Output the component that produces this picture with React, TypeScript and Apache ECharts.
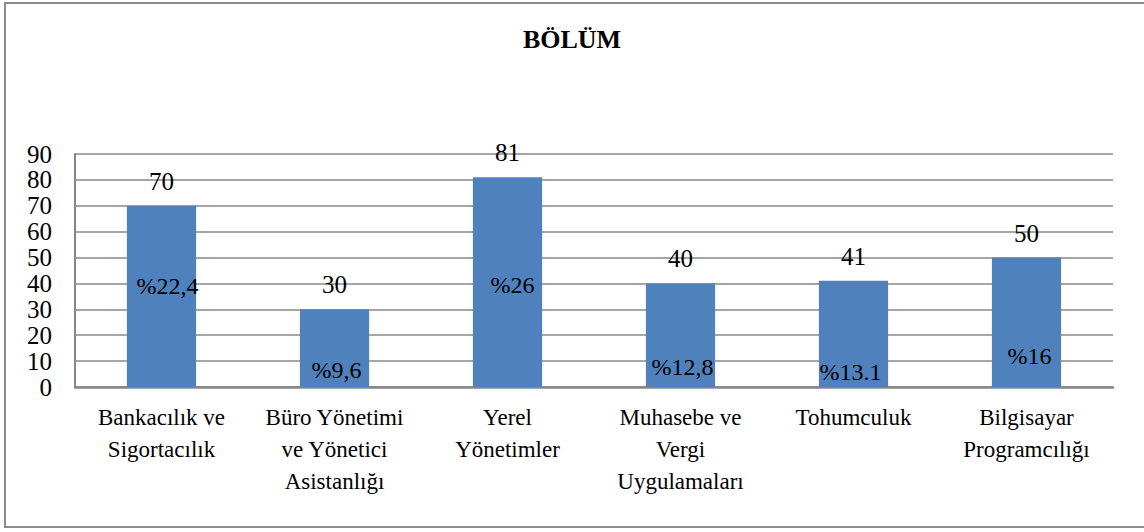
import React, { useEffect, useRef } from "react";
import * as echarts from "echarts";

const title = "BÖLÜM";
const categories = [
  "Bankacılık ve\nSigortacılık",
  "Büro Yönetimi\nve Yönetici\nAsistanlığı",
  "Yerel\nYönetimler",
  "Muhasebe ve\nVergi\nUygulamaları",
  "Tohumculuk",
  "Bilgisayar\nProgramcılığı",
];
const counts = [70, 30, 81, 40, 41, 50];
const percentLabels = ["%22,4", "%9,6", "%26", "%12,8", "%13.1", "%16"];
// pixel lift of each percentage label above the bar base (style only)
const percentLift = [89, 5, 90, 8, 3, 19];
const percentShiftX = [6, 2, 5, 2, -3, 3];

const FONT = "Liberation Serif";

export default function App() {
  const ref = useRef<HTMLDivElement>(null);
  useEffect(() => {
    if (!ref.current) return;
    const chart = echarts.init(ref.current, undefined, { renderer: "svg" });
    chart.setOption({
      animation: false,
      backgroundColor: "#ffffff",
      textStyle: { fontFamily: FONT, color: "#000" },
      graphic: [
        {
          type: "rect",
          shape: { x: 5, y: 3, width: 1150, height: 524 },
          style: { fill: "none", stroke: "#8c8c8c", lineWidth: 2 },
          silent: true,
        },
      ],
      title: {
        text: title,
        left: "center",
        top: 21,
        textStyle: { fontFamily: FONT, fontWeight: "bold", fontSize: 26, color: "#000" },
      },
      grid: { left: 75, right: 31, top: 154, bottom: 145, containLabel: false },
      xAxis: {
        type: "category",
        data: categories,
        axisLine: { show: true, lineStyle: { color: "#868686", width: 2.5 } },
        axisTick: { show: false },
        axisLabel: {
          interval: 0,
          fontFamily: FONT,
          fontSize: 23,
          lineHeight: 32,
          color: "#000",
          margin: 14,
          align: "center",
        },
      },
      yAxis: {
        type: "value",
        min: 0,
        max: 90,
        interval: 10,
        axisLine: { show: true, lineStyle: { color: "#868686", width: 2 } },
        axisTick: { show: false },
        axisLabel: { fontFamily: FONT, fontSize: 25, color: "#000", margin: 23 },
        splitLine: { show: true, lineStyle: { color: "#a6a6a6", width: 2 } },
      },
      series: [
        {
          type: "bar",
          data: counts,
          barWidth: "40%",
          itemStyle: { color: "#4f81bd" },
          label: {
            show: true,
            position: "top",
            distance: 12,
            fontFamily: FONT,
            fontSize: 25,
            color: "#000",
          },
          z: 2,
        },
        {
          type: "bar",
          data: counts.map((v, i) => ({
            value: v,
            label: {
              distance: percentLift[i],
              offset: [percentShiftX[i], 0],
              formatter: percentLabels[i],
            },
          })),
          barWidth: "40%",
          barGap: "-100%",
          itemStyle: { color: "rgba(0,0,0,0)" },
          label: {
            show: true,
            position: "insideBottom",
            fontFamily: FONT,
            fontSize: 24,
            color: "#000",
          },
          z: 3,
          silent: true,
        },
      ],
    });
    return () => chart.dispose();
  }, []);
  return (
    <div
      ref={ref}
      style={{ position: "absolute", left: 0, top: 0, width: 1144, height: 532, background: "#fff" }}
    />
  );
}
